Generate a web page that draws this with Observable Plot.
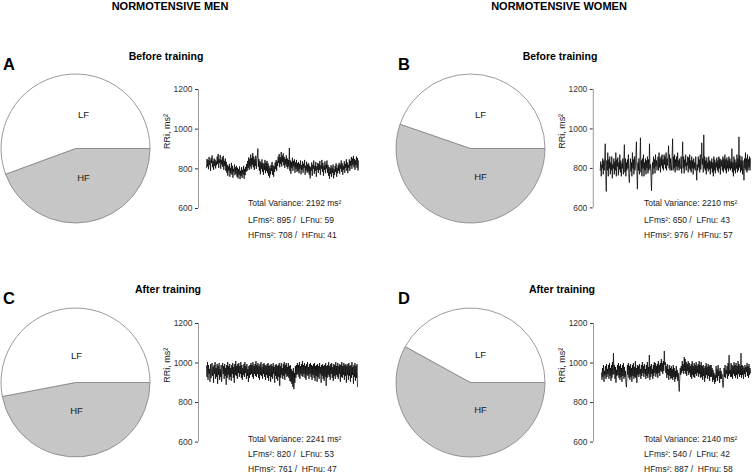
<!DOCTYPE html>
<html><head><meta charset="utf-8">
<script src="https://cdn.jsdelivr.net/npm/d3@7"></script>
<script src="https://cdn.jsdelivr.net/npm/@observablehq/plot@0.6"></script>
<style>
html,body{margin:0;padding:0;background:#fff;overflow:hidden;}
#fig{position:relative;width:753px;height:474px;overflow:hidden;font-family:"Liberation Sans",Arial,sans-serif;color:#111;}
.t{position:absolute;white-space:nowrap;line-height:1;}
.abs{position:absolute;}
</style></head><body><div id="fig"></div>
<script>
// ---------- data ----------
const groups = ["NORMOTENSIVE MEN", "NORMOTENSIVE WOMEN"];
const panelLetters = ["A", "B", "C", "D"];
const conditions = ["Before training", "Before training", "After training", "After training"];
const totalVariance = [2192, 2210, 2241, 2140];
const lfMs2 = [895, 650, 820, 540];
const lfNu = [59, 43, 53, 42];
const hfMs2 = [708, 976, 761, 887];
const hfNu = [41, 57, 47, 58];
// pie slice shares (percent of circle)
const pieLF = [55.6, 44.7, 53.0, 42.0];
const pieHF = [44.4, 55.3, 47.0, 58.0];
const sliceNames = ["LF", "HF"];
const yTicks = [600, 800, 1000, 1200];
const yLabel = "RRi, ms²";

const rriA = [
805,850,812,845,798,860,820,842,790,855,830,868,808,840,795,852,815,846,802,838,
818,862,825,875,805,848,830,870,800,845,822,858,810,866,795,840,815,852,790,835,
780,820,765,812,790,825,760,805,778,830,770,815,755,800,785,822,768,808,775,815,
760,805,752,798,770,812,748,790,765,808,755,795,772,815,750,800,768,810,785,825,
790,840,805,858,795,850,812,872,800,855,820,880,808,862,795,848,815,866,800,850,
860,902,810,850,790,840,772,832,800,848,785,830,770,825,795,845,778,832,790,840,
780,828,765,815,755,805,772,820,790,835,770,818,760,812,785,832,800,845,790,838,
815,862,830,875,808,858,825,885,812,866,835,878,818,860,805,850,822,868,810,852,
800,845,812,905,790,842,775,835,805,856,790,840,812,848,780,832,800,845,785,828,
790,835,778,825,800,842,772,818,795,838,780,826,805,845,770,815,792,836,780,822,
785,828,770,815,752,808,790,832,765,820,800,842,775,815,790,835,760,812,795,830,
780,825,795,840,770,818,800,845,785,830,765,815,795,838,778,822,802,842,780,820,
765,810,750,802,775,818,760,806,780,822,752,798,770,815,785,828,760,805,778,820,
790,830,775,822,800,842,785,828,770,815,795,838,780,825,805,848,790,832,778,820,
805,848,790,840,815,860,800,852,820,865,808,850,795,842,818,862,805,855,792,840];
const rriB = [
790,835,760,820,800,850,770,840,790,860,925,770,683,840,790,880,760,845,800,860,
770,830,790,860,750,820,800,850,770,835,790,880,760,845,810,855,765,830,795,870,
780,840,760,825,800,850,770,840,920,780,850,760,830,790,845,800,870,760,728,800,
850,785,830,760,880,800,845,770,860,790,810,870,935,770,695,830,790,850,770,840,
955,780,840,760,850,800,870,760,830,790,850,770,840,800,860,775,845,790,925,800,
820,760,687,790,830,770,860,800,845,775,870,810,840,790,820,860,790,880,805,850,
780,860,815,870,800,845,790,870,820,860,800,880,790,850,815,870,915,800,870,790,
850,820,790,860,950,790,860,800,870,780,845,810,860,790,880,805,840,790,850,800,
800,860,775,845,935,800,860,775,845,810,870,790,830,815,860,780,855,800,870,790,
840,780,860,800,840,770,850,800,830,790,860,805,740,820,790,860,805,845,780,870,
795,840,930,820,850,780,970,800,860,790,840,770,855,800,830,785,860,795,840,770,
835,800,850,780,830,760,860,790,845,775,830,805,855,790,840,780,860,800,850,770,
845,810,840,790,860,780,850,800,870,790,845,775,855,800,840,785,860,800,850,790,
835,800,900,780,830,760,860,790,845,775,830,800,870,780,850,790,960,805,865,780,
840,790,860,770,840,800,740,850,800,880,790,850,780,870,790,845,805,860,790,850];
const rriC = [
985,930,1005,915,990,945,970,905,995,925,960,1000,935,980,900,990,945,1005,920,975,
930,995,895,985,940,1000,915,970,930,990,905,960,1000,945,985,920,995,935,975,890,
990,925,1005,940,985,915,995,930,975,910,990,945,1000,925,980,900,995,940,1010,935,
985,920,995,950,1000,930,985,945,1005,925,990,915,975,940,995,930,1005,950,985,920,
995,935,970,905,985,925,990,940,1000,945,990,930,1005,920,985,945,995,935,1010,930,
990,945,1000,925,985,915,995,940,1005,935,980,920,995,945,1000,930,990,915,985,940,
995,925,1000,910,985,935,990,905,995,930,985,920,1000,945,980,900,990,935,995,920,
985,910,990,930,1000,885,985,925,1000,940,975,920,995,935,1005,915,990,945,1000,930,
980,935,1000,925,985,910,990,905,970,895,960,880,975,868,950,900,985,925,990,940,
1000,945,990,930,1005,920,985,945,995,935,1010,930,990,945,1000,925,985,915,995,940,
1005,935,980,920,995,945,1000,930,990,915,985,940,995,925,1000,910,985,935,990,905,
995,930,985,920,1000,945,980,900,990,935,995,920,985,910,990,930,1000,885,985,925,
990,940,1005,930,985,915,995,945,1000,925,980,910,995,935,990,920,1005,940,985,930,
1000,920,985,945,995,905,990,930,1005,925,985,940,1000,915,990,935,995,900,985,940,
995,915,1000,935,985,905,990,925,1005,940,980,895,990,930,1000,910,985,925,995,880];
const rriD = [
950,915,975,930,990,905,960,940,985,920,995,930,970,945,990,920,1000,935,975,910,
990,925,1005,940,1050,945,990,920,980,900,965,935,990,940,1000,925,985,915,995,930,
975,905,990,935,1000,920,980,930,960,900,878,925,990,940,1000,925,985,915,995,930,
975,905,990,935,1000,920,980,930,1010,925,975,900,990,940,985,930,995,945,970,920,
990,935,1005,950,985,930,995,945,970,920,990,935,1005,925,980,945,1040,915,985,930,
995,945,970,920,990,935,1005,950,1000,930,985,945,995,925,1010,950,990,935,1000,960,
1020,955,1000,945,1010,960,1061,990,1005,950,985,925,995,940,970,915,990,935,975,920,
985,925,970,915,990,930,975,905,960,920,985,930,965,910,950,895,856,920,975,940,
985,950,1010,960,995,945,1030,960,1020,945,1005,935,995,960,1010,940,1000,950,985,930,
995,920,1010,940,985,930,1000,925,990,945,1005,935,985,950,995,930,1010,945,990,925,
1005,930,985,915,990,935,975,905,985,925,1000,940,980,920,995,935,985,910,990,930,
990,930,975,905,965,915,950,895,940,905,985,925,970,910,990,935,960,900,975,920,
960,920,945,900,876,910,975,930,990,925,965,945,985,920,1000,935,1040,945,965,930,
1000,930,990,920,985,945,1005,935,990,925,1000,940,985,920,1010,945,995,930,985,940,
1050,925,990,940,985,920,975,945,990,930,980,955,1000,935,985,925,995,940,975,950];
const rriSeries = [rriA, rriB, rriC, rriD];

// ---------- layout (pixel positions in the 753x474 figure) ----------
const layout = [
  {pie:[75.5,148.3], axisX:198, x0:206, x1:358, yTop:89,    yBot:208,   note:[248,203,220,235],       title:[166,56],    letter:[3,63.5], lab:{LF:[7.5,-34],HF:[7.5,29]}},
  {pie:[470.5,148.3],axisX:593, x0:600, x1:751, yTop:89,    yBot:208,   note:[644,203,220,235],       title:[560,56],    letter:[398,63.5], lab:{LF:[9.5,-34],HF:[9.5,28]}},
  {pie:[75.5,382.5], axisX:198, x0:206, x1:357, yTop:322.7, yBot:441.3, note:[248,438.7,454.3,469.3], title:[168,288.7], letter:[3,298], lab:{LF:[0.5,-27.5],HF:[0.5,27.5]}},
  {pie:[470.5,382.5],axisX:593, x0:601, x1:750, yTop:322.7, yBot:441.3, note:[644,438.7,454.3,469.3], title:[562,288.7], letter:[398,298], lab:{LF:[9.5,-28.5],HF:[9.5,26.5]}}
];
const FONT = "Liberation Sans, Arial, sans-serif";
const fig = document.getElementById("fig");

function addText(str, x, y, {anchor = "start", size = 9, weight = "normal", color = "#1a1a1a"} = {}) {
  const d = document.createElement("div");
  d.className = "t";
  d.textContent = str;
  d.style.left = x + "px";
  d.style.top = y + "px";
  d.style.fontSize = size + "px";
  d.style.fontWeight = weight;
  d.style.color = color;
  d.style.transform = `translate(${anchor === "middle" ? "-50%" : "0"}, -50%)`;
  fig.appendChild(d);
}
function place(node, left, top) {
  const w = document.createElement("div");
  w.className = "abs";
  w.style.left = left + "px";
  w.style.top = top + "px";
  w.appendChild(node);
  fig.appendChild(w);
}

// group headers
addText(groups[0], 170, 6, {anchor: "middle", size: 11, weight: "bold", color: "#000"});
addText(groups[1], 559, 6, {anchor: "middle", size: 11, weight: "bold", color: "#000"});

const R = 74.5;
layout.forEach((L, p) => {
  // ---- pie ----
  const share = [pieHF[p], pieLF[p]]; // drawn clockwise from 3 o'clock: HF first, then LF
  const pieMark = (index, scales) => {
    const cx = scales.x(0), cy = scales.y(0), r = scales.x(1) - cx;
    const arcs = d3.pie().sort(null).startAngle(Math.PI / 2).endAngle(Math.PI / 2 + 2 * Math.PI)(share);
    const arc = d3.arc().innerRadius(0).outerRadius(r);
    const g = d3.create("svg:g").attr("transform", `translate(${cx},${cy})`);
    g.selectAll("path").data(arcs).join("path")
      .attr("d", arc)
      .attr("fill", (d, i) => i === 0 ? "#c6c6c6" : "#ffffff")
      .attr("stroke", "#808080")
      .attr("stroke-width", 0.8);
    return g.node();
  };
  const labels = sliceNames.map(n => ({name: n, x: L.lab[n][0] / R, y: -L.lab[n][1] / R}));
  const pie = Plot.plot({
    width: 2 * R + 2, height: 2 * R + 2, margin: 1,
    x: {domain: [-1, 1], axis: null}, y: {domain: [-1, 1], axis: null},
    style: {fontFamily: FONT, background: "transparent", overflow: "visible"},
    marks: [
      Plot.dot([{x: -1, y: -1}, {x: 1, y: 1}], {x: "x", y: "y", fill: "none", stroke: "none"}),
      pieMark,
      Plot.text(labels, {x: "x", y: "y", text: "name", fontSize: 9.5, fill: "#1a1a1a"})
    ]
  });
  place(pie, L.pie[0] - (R + 1), L.pie[1] - (R + 1));

  // ---- RRi line ----
  const data = rriSeries[p];
  const n = data.length;
  const k = (L.x1 - L.x0) / (n - 1);
  const xmin = -(L.x0 - L.axisX) / k;
  const mL = 48, mT = 8, mR = 3, mB = 6;
  const innerW = L.x1 - L.axisX, innerH = L.yBot - L.yTop;
  const line = Plot.plot({
    width: mL + innerW + mR, height: mT + innerH + mB,
    marginLeft: mL, marginTop: mT, marginRight: mR, marginBottom: mB,
    x: {domain: [xmin, n - 1], axis: null},
    y: {domain: [600, 1200], ticks: yTicks, tickSize: 3, tickPadding: 3, tickFormat: d => String(d), label: null},
    style: {fontFamily: FONT, fontSize: "8.5px", color: "#333", background: "transparent", overflow: "visible"},
    marks: [
      Plot.ruleX([xmin], {stroke: "#9a9a9a", strokeWidth: 1}),
      Plot.line(data, {x: (d, i) => i, y: d => d, stroke: "#000", strokeWidth: 0.75}),
      Plot.text([yLabel], {text: d => d, frameAnchor: "left", dx: -31, rotate: -90, fontSize: 9, fill: "#222"})
    ]
  });
  place(line, L.axisX - mL, L.yTop - mT);

  // ---- texts ----
  addText(conditions[p], L.title[0], L.title[1], {anchor: "middle", size: 10.5, weight: "bold", color: "#000"});
  addText(panelLetters[p], L.letter[0], L.letter[1], {size: 16.5, weight: "bold", color: "#000"});
  addText(`Total Variance: ${totalVariance[p]} ms²`, L.note[0], L.note[1], {size: 8.5});
  addText(`LFms²: ${lfMs2[p]} /\u00a0 LFnu: ${lfNu[p]}`, L.note[0], L.note[2], {size: 8.5});
  addText(`HFms²: ${hfMs2[p]} /\u00a0 HFnu: ${hfNu[p]}`, L.note[0], L.note[3], {size: 8.5});
});
</script></body></html>
